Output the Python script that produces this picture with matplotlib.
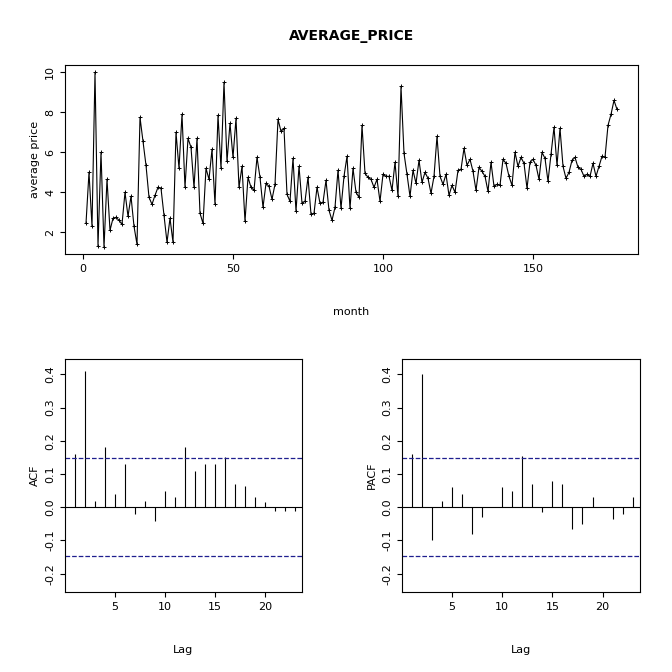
import matplotlib
matplotlib.use("Agg")
import matplotlib.pyplot as plt
import numpy as np

price = [2.45,5.0,2.3,10.0,1.3,6.0,1.25,4.65,2.1,2.7,2.75,2.6,2.4,4.0,2.8,3.8,2.3,1.4,7.75,6.55,
 5.35,3.75,3.4,3.85,4.25,4.2,2.85,1.5,2.7,1.5,7.0,5.2,7.9,4.25,6.7,6.25,4.25,6.7,2.95,2.45,
 5.2,4.65,6.15,3.4,7.85,5.2,9.5,5.55,7.45,5.75,7.7,4.25,5.3,2.55,4.75,4.25,4.1,5.75,4.75,3.25,
 4.45,4.3,3.65,4.4,7.65,7.05,7.2,3.9,3.55,5.7,3.05,5.3,3.45,3.55,4.75,2.9,2.95,4.25,3.45,3.5,
 4.6,3.1,2.6,3.25,5.1,3.2,4.8,5.8,3.2,5.2,4.0,3.75,7.35,4.95,4.75,4.65,4.25,4.65,3.55,4.9,
 4.8,4.8,4.1,5.5,3.8,9.3,5.95,4.9,3.8,5.1,4.45,5.6,4.5,5.0,4.7,3.95,4.8,6.8,4.8,4.4,
 4.9,3.85,4.35,4.0,5.1,5.15,6.2,5.35,5.65,5.05,4.1,5.25,5.05,4.8,4.05,5.5,4.3,4.4,4.35,5.65,
 5.45,4.8,4.35,6.0,5.3,5.75,5.45,4.2,5.5,5.65,5.35,4.65,6.0,5.7,4.55,5.9,7.25,5.35,7.2,5.3,
 4.7,5.0,5.6,5.75,5.25,5.15,4.8,4.9,4.8,5.45,4.8,5.3,5.8,5.75,7.35,7.9,8.6,8.15]
lags = list(range(1, 24))
acf = [0.16,0.41,0.02,0.18,0.04,0.13,-0.02,0.02,-0.04,0.05,0.03,0.18,0.11,0.13,0.13,0.15,
       0.07,0.065,0.03,0.015,-0.01,-0.01,-0.01]
pacf = [0.16,0.40,-0.10,0.02,0.06,0.04,-0.08,-0.03,0.0,0.06,0.05,0.155,0.07,-0.015,0.08,0.07,
        -0.065,-0.05,0.03,0.0,-0.035,-0.02,0.03]
ci = 1.96/np.sqrt(len(price))

W = H = 672
fig = plt.figure(figsize=(6.72, 6.72), dpi=100)
def ax_px(l, t, r, b):
    return fig.add_axes([l/W, 1-b/H, (r-l)/W, (b-t)/H])

fs = 8
ax = ax_px(65, 65, 638, 254)
months = np.arange(1, len(price)+1)
ax.plot(months, price, color='black', lw=0.8, marker='+', ms=3, mew=0.7)
ax.set_xlim(-6.0, 185.0)
ax.set_ylim(0.915, 10.37)
ax.set_xticks([0, 50, 100, 150])
ax.set_yticks([2, 4, 6, 8, 10])
ax.set_title('AVERAGE_PRICE', fontweight='bold', fontsize=10, pad=18)
ax.set_xlabel('month', fontsize=fs, labelpad=24)
ax.set_ylabel('average price', fontsize=fs)

def corrplot(a, vals, lab):
    a.vlines(lags, 0, vals, color='black', lw=0.8)
    a.axhline(0, color='black', lw=0.8)
    a.axhline(ci, color='#1f1f8f', ls='--', lw=0.9)
    a.axhline(-ci, color='#1f1f8f', ls='--', lw=0.9)
    a.set_xlim(0.03, 23.73)
    a.set_ylim(-0.255, 0.446)
    a.set_xticks([5, 10, 15, 20])
    a.set_yticks([-0.2, -0.1, 0.0, 0.1, 0.2, 0.3, 0.4])
    a.set_yticklabels(['-0.2', '-0.1', '0.0', '0.1', '0.2', '0.3', '0.4'])
    a.set_xlabel('Lag', fontsize=fs, labelpad=24)
    a.set_ylabel(lab, fontsize=fs)

corrplot(ax_px(65, 359, 302, 592), acf, 'ACF')
corrplot(ax_px(402, 359, 640, 592), pacf, 'PACF')

for a in fig.axes:
    a.tick_params(labelsize=fs)
    for s in a.spines.values():
        s.set_linewidth(0.8)
    a.tick_params(axis='y', labelrotation=90)
    for t in a.get_yticklabels():
        t.set_va('center')

fig.savefig('out.png', dpi=100)
